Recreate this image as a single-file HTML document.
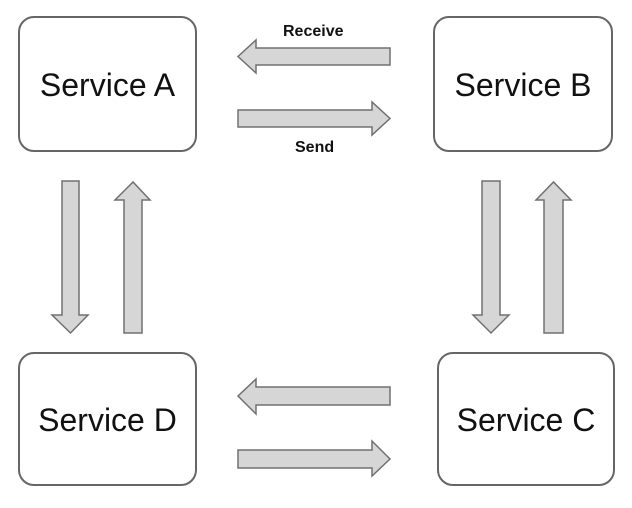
<!DOCTYPE html>
<html><head><style>
html,body{margin:0;padding:0;background:#fff;}
body{width:632px;height:508px;position:relative;overflow:hidden;font-family:"Liberation Sans",sans-serif;}
.box{position:absolute;border:2px solid #666;border-radius:16px;background:#fff;display:flex;align-items:center;justify-content:center;font-size:32px;color:#111;box-sizing:border-box;padding-top:2px;}
.lbl{position:absolute;font-size:16px;font-weight:bold;color:#111;}
svg{position:absolute;left:0;top:0;}
</style></head><body>
<svg width="632" height="508">
<g fill="#d6d6d6" stroke="#707070" stroke-width="1.5" stroke-linejoin="miter">
<polygon points="390,48 256,48 256,40 238,56.5 256,73 256,65 390,65"/>
<polygon points="238,110 372,110 372,102 390,118.5 372,135 372,127 238,127"/>
<polygon points="62,181 79,181 79,315 88,315 70.5,333 52,315 62,315"/>
<polygon points="124,333 142,333 142,200 150,200 133,182 115,200 124,200"/>
<polygon points="482,181 500,181 500,315 509,315 491,333 473,315 482,315"/>
<polygon points="544,333 563,333 563,200 571,200 553.5,182 536,200 544,200"/>
<polygon points="390,387 256,387 256,379 238,396 256,414 256,405 390,405"/>
<polygon points="238,450 372,450 372,441 390,459 372,476 372,468 238,468"/>
</g>
</svg>
<div class="box" style="left:18px;top:16px;width:179px;height:136px;">Service A</div>
<div class="box" style="left:433px;top:16px;width:180px;height:136px;">Service B</div>
<div class="box" style="left:18px;top:352px;width:179px;height:134px;">Service D</div>
<div class="box" style="left:437px;top:352px;width:178px;height:134px;">Service C</div>
<div class="lbl" style="left:283px;top:23px;">Receive</div>
<div class="lbl" style="left:295px;top:139px;">Send</div>
</body></html>
